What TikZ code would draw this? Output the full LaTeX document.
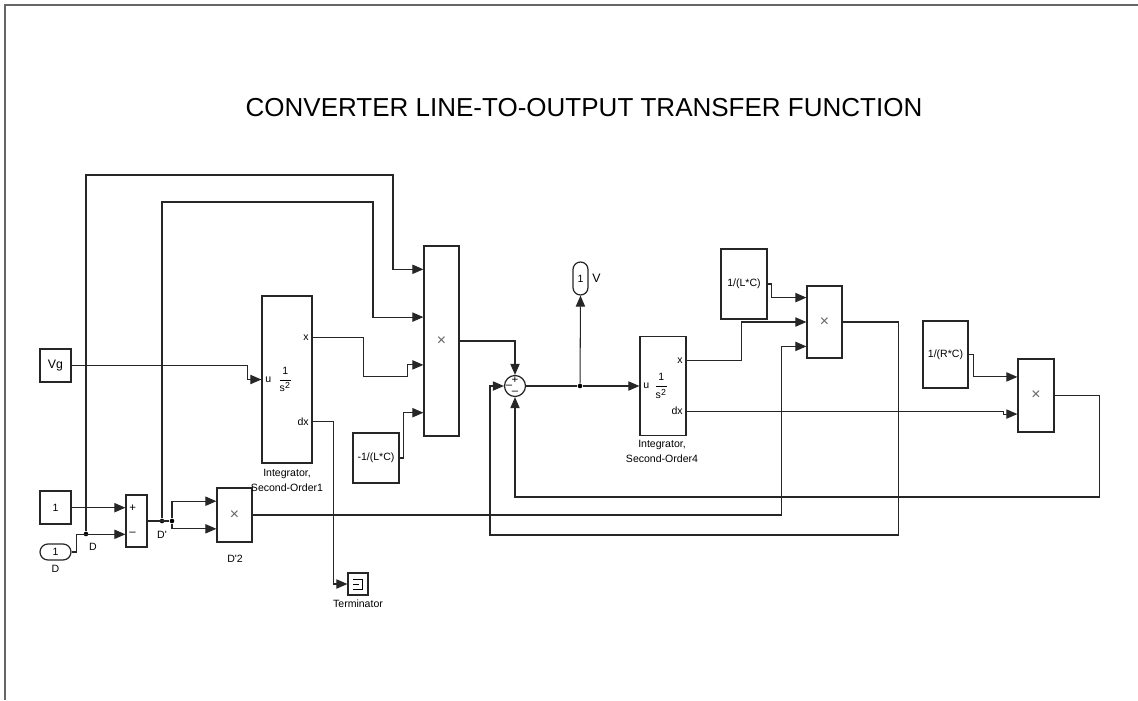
\documentclass[tikz,border=0pt]{standalone}
\usepackage{fontspec}
\setmainfont{Liberation Sans}
\usepackage{amsmath}
\usetikzlibrary{arrows.meta,calc}

\tikzset{
  blk/.style={draw=black!85, line width=0.7pt, inner sep=0pt, font=\fontsize{6}{7}\selectfont},
  prodblk/.style={blk, font=\fontsize{9}{10}\selectfont, text=black!60},
  wire/.style={draw=black!85, line width=0.6pt},
  sig/.style={wire, -{Triangle[length=6.3pt,width=5.3pt]}},
  lbl/.style={font=\fontsize{6}{8.5}\selectfont, inner sep=0pt, align=center},
  signlbl/.style={lbl, font=\fontsize{6.5}{6.5}\selectfont},
  junc/.style={circle, fill=black, inner sep=0pt, minimum size=2.6pt},
}

\begin{document}
\begin{tikzpicture}[x=0.02cm, y=-0.02cm]
\useasboundingbox (0,0) rectangle (1138,700);
% ---------- page frame and title ----------
\draw[line width=0.8pt, black!60] (5,700) -- (5,5) -- (1138,5);
\node[font=\fontsize{14.8}{18}\selectfont] (title) at (584,108) {CONVERTER LINE-TO-OUTPUT TRANSFER FUNCTION};

% ---------- sources ----------
\node[blk, minimum width=0.62cm, minimum height=0.66cm, font=\fontsize{7}{8}\selectfont] (vg) at (55.5,365.5) {Vg};
\node[blk, minimum width=0.62cm, minimum height=0.66cm] (one) at (55.5,507.5) {1};
\node[blk, rounded corners=0.16cm, minimum width=0.62cm, minimum height=0.32cm] (din) at (55.5,552) {1};
\node[lbl] (dname) at (55.5,569) {D};

% ---------- D' = 1 - D ----------
\node[blk, minimum width=0.42cm, minimum height=1.04cm] (sub) at (136.5,521) {};
\coordinate (subin1) at ($(sub.north west)!0.25!(sub.south west)$);
\coordinate (subin2) at ($(sub.north west)!0.75!(sub.south west)$);
\node[signlbl, anchor=west] (subplus) at ([xshift=2pt]subin1) {+};
\node[signlbl, anchor=west] (subminus) at ([xshift=2pt]subin2) {–};
\node[junc] (jD) at (86,534) {};
\node[lbl] (dlab) at (93,547) {D};
\node[junc] (jDp) at (162,521) {};
\node[junc] (jDq) at (172,521) {};
\node[lbl] (dplab) at (162,535) {D\textquotesingle};

% ---------- D'^2 ----------
\node[prodblk, minimum width=0.70cm, minimum height=1.08cm] (dsq) at (234.5,515) {×};
\coordinate (dsqin1) at ($(dsq.north west)!0.25!(dsq.south west)$);
\coordinate (dsqin2) at ($(dsq.north west)!0.75!(dsq.south west)$);
\node[lbl] (dsqname) at (235,559) {D\textquotesingle2};

% ---------- first integrator ----------
\node[blk, minimum width=1.0cm, minimum height=3.34cm] (int1) at (287,379.5) {};
\coordinate (i1u) at (int1.west);
\coordinate (i1x) at ($(int1.north east)!0.25!(int1.south east)$);
\coordinate (i1dx) at ($(int1.north east)!0.75!(int1.south east)$);
\node[lbl, anchor=west] (i1ulab) at ([xshift=2pt]i1u) {u};
\node[lbl, anchor=east] (i1xlab) at ([xshift=-2pt]i1x) {x};
\node[lbl, anchor=east] (i1dxlab) at ([xshift=-2pt]i1dx) {dx};
\node[lbl] (i1tf) at ([xshift=-1pt]int1.center) {$\dfrac{\text{1}}{\text{s}^{\text{2}}}$};
\node[lbl] (int1name) at (287,480) {Integrator,\\Second-Order1};

\node[blk, minimum width=0.4cm, minimum height=0.44cm] (term) at (358,584) {};
\draw[line width=0.5pt] ([shift={(-5,-5)}]term.center) -- ([shift={(4,-5)}]term.center)
  -- ([shift={(4,5)}]term.center) -- ([shift={(-5,5)}]term.center);
\draw[line width=0.5pt] ([shift={(-5,0)}]term.center) -- ([shift={(1,0)}]term.center);
\node[lbl] (termname) at (358,604) {Terminator};

% ---------- first product ----------
\node[prodblk, minimum width=0.70cm, minimum height=3.80cm] (prod1) at (441.5,341) {×};
\foreach \k/\f in {1/0.125,2/0.375,3/0.625,4/0.875}
  \coordinate (p1in\k) at ($(prod1.north west)!\f!(prod1.south west)$);
\node[blk, minimum width=0.92cm, minimum height=1.0cm] (lc1) at (376,458) {-1/(L*C)};

% ---------- summing junction and output ----------
\node[blk, circle, minimum size=0.42cm] (sumc) at (515,386) {};
\node[signlbl] (sumtop) at (515,380) {+};
\node[signlbl] (sumleft) at (509,387) {–};
\node[signlbl] (sumbot) at (515,392.5) {–};
\node[junc] (jV) at (580,386) {};
\node[blk, rounded corners=0.15cm, minimum width=0.30cm, minimum height=0.66cm] (vout) at (580.5,278.5) {1};
\node[lbl, font=\fontsize{7}{8}\selectfont, anchor=west] (vname) at ([xshift=2pt]vout.east) {V};

% ---------- second integrator ----------
\node[blk, minimum width=0.92cm, minimum height=1.98cm] (int2) at (663,386) {};
\coordinate (i2u) at (int2.west);
\coordinate (i2x) at ($(int2.north east)!0.25!(int2.south east)$);
\coordinate (i2dx) at ($(int2.north east)!0.75!(int2.south east)$);
\node[lbl, anchor=west] (i2ulab) at ([xshift=2pt]i2u) {u};
\node[lbl, anchor=east] (i2xlab) at ([xshift=-2pt]i2x) {x};
\node[lbl, anchor=east] (i2dxlab) at ([xshift=-2pt]i2dx) {dx};
\node[lbl] (i2tf) at ([xshift=-1pt]int2.center) {$\dfrac{\text{1}}{\text{s}^{\text{2}}}$};
\node[lbl] (int2name) at (662,451) {Integrator,\\Second-Order4};

% ---------- right-hand gains and products ----------
\node[blk, minimum width=0.92cm, minimum height=1.40cm] (lc2) at (744,284) {1/(L*C)};
\node[prodblk, minimum width=0.70cm, minimum height=1.44cm] (prod4) at (824.5,322) {×};
\foreach \k/\f in {1/0.1667,2/0.5,3/0.8333}
  \coordinate (p4in\k) at ($(prod4.north west)!\f!(prod4.south west)$);
\node[blk, minimum width=0.90cm, minimum height=1.34cm] (rc) at (945.5,354.5) {1/(R*C)};
\node[prodblk, minimum width=0.72cm, minimum height=1.46cm] (prod3) at (1036,395.5) {×};
\coordinate (p3in1) at ($(prod3.north west)!0.25!(prod3.south west)$);
\coordinate (p3in2) at ($(prod3.north west)!0.75!(prod3.south west)$);

% ---------- signals, left part ----------
\draw[sig] (one.east |- subin1) -- (subin1);
\draw[sig] (din.east) -- ++(5,0) |- (subin2);
\draw[sig] (jD) |- (393,175) |- (p1in1);
\draw[wire] (sub.east) -- (jDq);
\draw[sig] (jDq) |- (dsqin1);
\draw[sig] (jDq) |- (dsqin2);
\draw[sig] (jDp) |- (373,202) |- (p1in2);
\draw[sig] (vg.east) -- ++(176,0) |- (i1u);
\draw[sig] (i1x) -- ++(51,0) -- ++(0,39) -| ($(p1in3)+(-16,0)$) -- (p1in3);
\draw[sig] (lc1.east) -- ++(4,0) |- (p1in4);
\draw[sig] (i1dx) -- ++(21,0) |- (term.west);

% ---------- signals, right part ----------
\draw[sig] (prod1.east) -| (sumc.north);
\draw[wire] (sumc.east) -- (jV);
\draw[sig] (jV) -- (i2u);
\draw[sig] (jV) -- (vout.south);
\draw[sig] (i2x) -- ++(55,0) |- (p4in2);
\draw[sig] (lc2.east) -- ++(4,0) |- (p4in1);
\draw[sig] (dsq.east) -| ($(p4in3)+(-25,0)$) -- (p4in3);
\draw[sig] (i2dx) -- ++(317,0) |- (p3in2);
\draw[sig] (rc.east) -- ++(5,0) |- (p3in1);
% feedback loops
\draw[sig] (prod3.east) -- ++(45,0) |- (515,497) -- (sumc.south);
\draw[sig] (prod4.east) -- ++(56,0) |- (490,535) |- (sumc.west);
\end{tikzpicture}
\end{document}
